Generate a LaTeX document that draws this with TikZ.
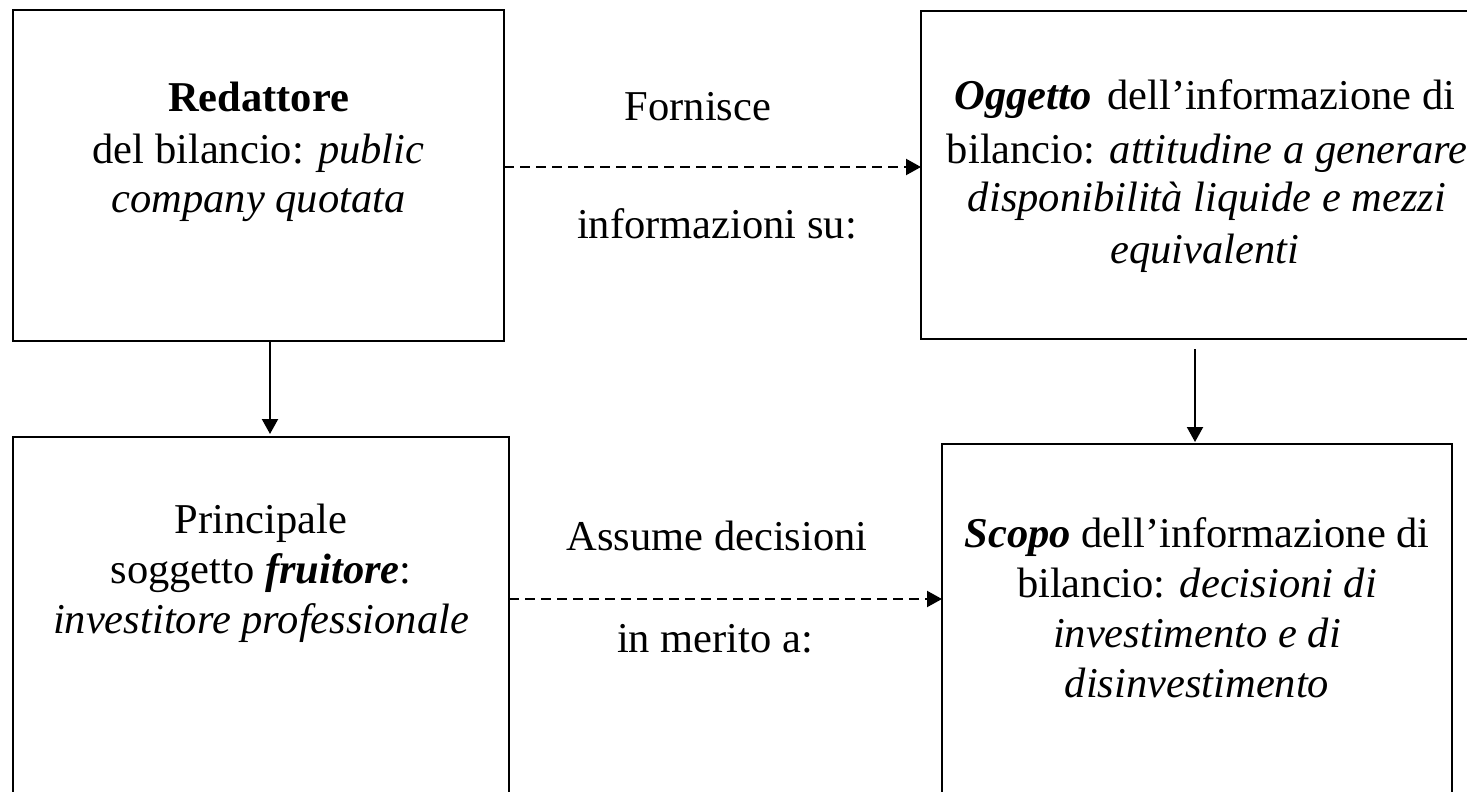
\documentclass[tikz,border=0pt]{standalone}
\usepackage{fontspec}
\setmainfont{Liberation Serif}
\usetikzlibrary{arrows.meta}
\newcommand\fsz{\fontsize{21.25pt}{25.5pt}\selectfont}
\tikzset{
  box/.style={draw, line width=1.35pt, rectangle, inner sep=0pt, outer sep=0pt},
  ln/.style={anchor=base, inner sep=0pt, font=\fsz},
  arr/.style={line width=1.05pt, -{Triangle[length=7.5pt,width=8pt]}},
  darr/.style={arr, dash pattern=on 5pt off 3pt},
}
\begin{document}
\begin{tikzpicture}[x=0.5pt,y=-0.5pt]
\useasboundingbox (0,0) rectangle (1467,792);
\clip (0,0) rectangle (1467,792);
\fill[white] (0,0) rectangle (1467,792);

% boxes
\node[box, minimum width=245.5pt, minimum height=165.5pt] (TL) at (258.5,175.5) {};
\node[box, minimum width=284pt, minimum height=164pt] (TR) at (1205,175) {};
\node[box, minimum width=248pt, minimum height=231.5pt] (BL) at (261,668.5) {};
\node[box, minimum width=255pt, minimum height=228pt] (BR) at (1197,672) {};

% texts in boxes
\node[ln] (tl1) at (258.5,112) {\textbf{Redattore}};
\node[ln] (tl2) at (258.5,163) {del bilancio: \textit{public}};
\node[ln] (tl3) at (258.5,213) {\textit{company quotata}};

\node[ln] (tr1) at (1205,110) {\textbf{\textit{Oggetto}}\hspace{0.12em} dell’informazione di};
\node[ln] (tr2) at (1207,163) {bilancio: \textit{attitudine a generare}};
\node[ln] (tr3) at (1207,212) {\textit{disponibilità liquide e mezzi}};
\node[ln] (tr4) at (1205,263) {\textit{equivalenti}};

\node[ln] (bl1) at (261,533) {Principale};
\node[ln] (bl2) at (261,583) {soggetto \textbf{\textit{fruitore}}:};
\node[ln] (bl3) at (261,633) {\textit{investitore professionale}};

\node[ln] (br1) at (1197,547) {\textbf{\textit{Scopo}} dell’informazione di};
\node[ln] (br2) at (1197,597) {bilancio: \textit{decisioni di}};
\node[ln] (br3) at (1197,647) {\textit{investimento e di}};
\node[ln] (br4) at (1197,697) {\textit{disinvestimento}};

% middle labels
\node[ln] (m1) at (698,120) {Fornisce};
\node[ln] (m2) at (717,238) {informazioni su:};
\node[ln] (m3) at (717,550) {Assume decisioni};
\node[ln] (m4) at (715,652) {in merito a:};

% connectors
\coordinate (v1) at (270,0);
\coordinate (v2) at (1195,0);
\coordinate (h1) at (700,167);
\coordinate (h2) at (700,599);
\draw[arr, shorten >=1.5pt] (TL.south -| v1) -- (BL.north -| v1);
\draw[arr, shorten <=5pt, shorten >=1pt] (TR.south -| v2) -- (BR.north -| v2);
\draw[darr] (TL.east |- h1) -- (TR.west |- h1);
\draw[darr] (BL.east |- h2) -- (BR.west |- h2);
\end{tikzpicture}
\end{document}
